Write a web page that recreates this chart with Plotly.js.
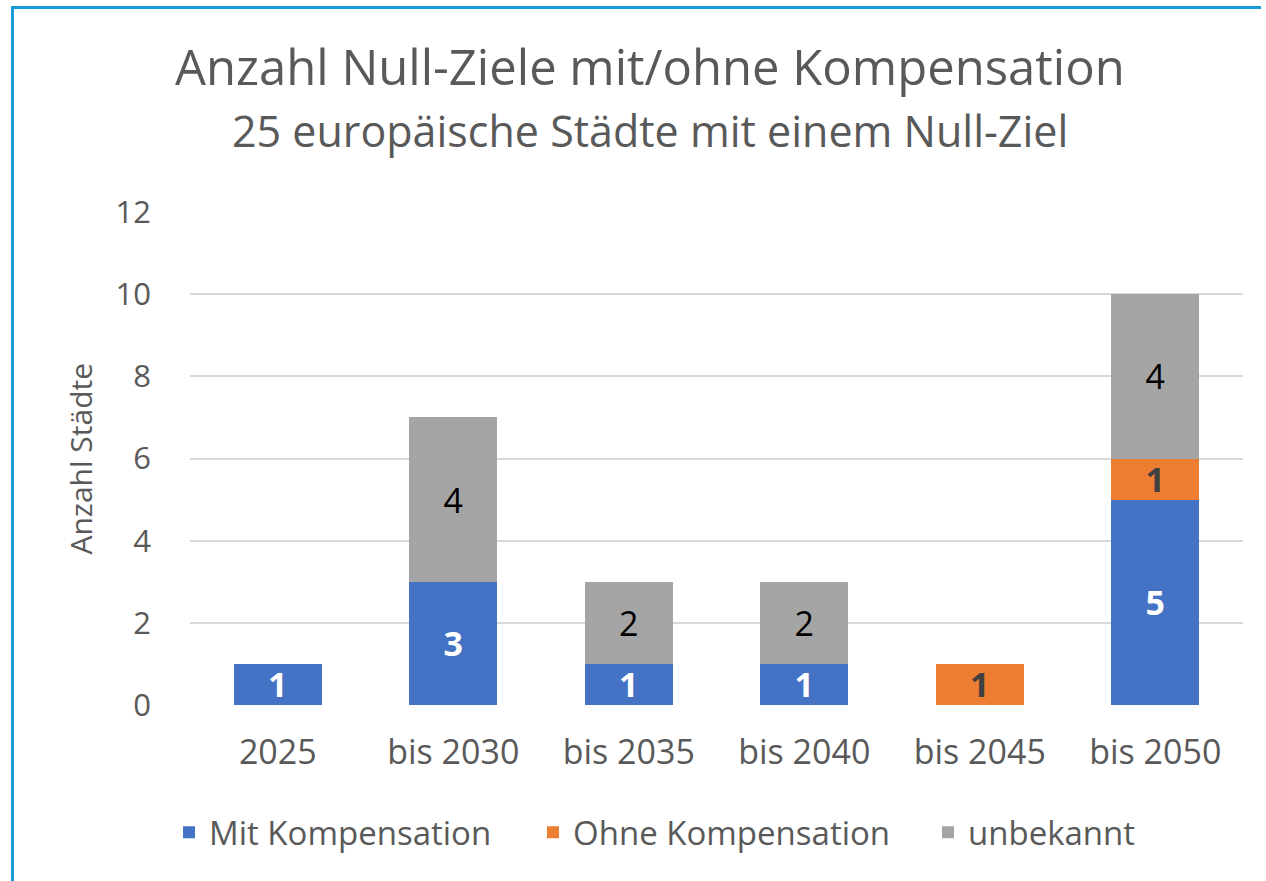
<!DOCTYPE html>
<html>
<head>
<meta charset="utf-8">
<script src="https://cdn.plot.ly/plotly-3.0.1.min.js"></script>
<style>
html, body { margin: 0; padding: 0; background: #fff; }
#wrap { position: relative; width: 1266px; height: 881px; }
#chart { width: 1266px; height: 881px; }
#frame { position: absolute; left: 11px; top: 6px; width: 1247px; height: 900px;
  border-top: 3px solid #1A9AD8; border-left: 3px solid #1A9AD8; pointer-events: none; }
</style>
</head>
<body>
<div id="wrap">
<div id="chart"></div>
<div id="frame"></div>
</div>
<script>
const categories = ["2025", "bis 2030", "bis 2035", "bis 2040", "bis 2045", "bis 2050"];
const mitKompensation = [1, 3, 1, 1, 0, 5];
const ohneKompensation = [0, 0, 0, 0, 1, 1];
const unbekannt = [0, 4, 2, 2, 0, 4];
const seriesNames = ["Mit Kompensation", "Ohne Kompensation", "unbekannt"];
const titleText = "Anzahl Null-Ziele mit/ohne Kompensation";
const subtitleText = "25 europäische Städte mit einem Null-Ziel";
const yTitle = "Anzahl Städte";
const yTicks = [0, 2, 4, 6, 8, 10, 12];

const FONT = "Open Sans, sans-serif";
const TXT = "#595959";

function lbl(vals) { return vals.map(v => v ? String(v) : ""); }

const traces = [
  { name: seriesNames[0], y: mitKompensation, color: "#4472C4", lg: "legend",
    tf: { color: "#FFFFFF", size: 34, family: FONT, weight: 700 } },
  { name: seriesNames[1], y: ohneKompensation, color: "#ED7D31", lg: "legend2",
    tf: { color: "#404040", size: 34, family: FONT, weight: 700 } },
  { name: seriesNames[2], y: unbekannt, color: "#A5A5A5", lg: "legend3",
    tf: { color: "#000000", size: 34, family: FONT, weight: 400 } }
].map(s => ({
  type: "bar", name: s.name, x: categories, y: s.y, legend: s.lg,
  marker: { color: s.color },
  text: lbl(s.y), textposition: "inside", insidetextanchor: "middle",
  textangle: 0, constraintext: "none",
  textfont: s.tf, hoverinfo: "x+y+name"
}));

function legendAt(px) {
  return { orientation: "h", x: (px - 190) / 1053, xanchor: "left", y: -0.258, yanchor: "middle",
    font: { size: 33, color: TXT, family: FONT }, itemclick: false, bgcolor: "rgba(0,0,0,0)" };
}

const layout = {
  width: 1266, height: 881,
  margin: { l: 190, r: 23, t: 212, b: 176 },
  paper_bgcolor: "#fff", plot_bgcolor: "#fff",
  barmode: "stack", bargap: 0.5,
  font: { family: FONT, color: TXT },
  showlegend: true,
  legend: legendAt(209 - 40),
  legend2: legendAt(573 - 40),
  legend3: legendAt(968 - 40),
  xaxis: { type: "category", showgrid: false, zeroline: false, showline: false,
    ticks: "", ticklabelstandoff: 24, tickfont: { size: 34, color: TXT, family: FONT } },
  yaxis: { range: [0, 12], tickvals: yTicks, showgrid: true, gridcolor: "#D9D9D9", gridwidth: 2,
    zeroline: false, showline: false, ticks: "", ticklabelstandoff: 38,
    tickfont: { size: 31, color: TXT, family: FONT } },
  annotations: [
    { text: titleText, xref: "paper", yref: "paper", x: (650 - 190) / 1053, y: 1 + (212 - 66) / 493,
      xanchor: "center", yanchor: "middle", showarrow: false, font: { size: 49, color: TXT, family: FONT } },
    { text: subtitleText, xref: "paper", yref: "paper", x: (650 - 190) / 1053, y: 1 + (212 - 130) / 493,
      xanchor: "center", yanchor: "middle", showarrow: false, font: { size: 43, color: TXT, family: FONT } },
    { text: yTitle, xref: "paper", yref: "paper", x: (80 - 190) / 1053, y: 0.5, textangle: -90,
      xanchor: "center", yanchor: "middle", showarrow: false, font: { size: 30, color: TXT, family: FONT } }
  ]
};

Plotly.newPlot("chart", traces, layout, { displayModeBar: false, staticPlot: true });
</script>
</body>
</html>
